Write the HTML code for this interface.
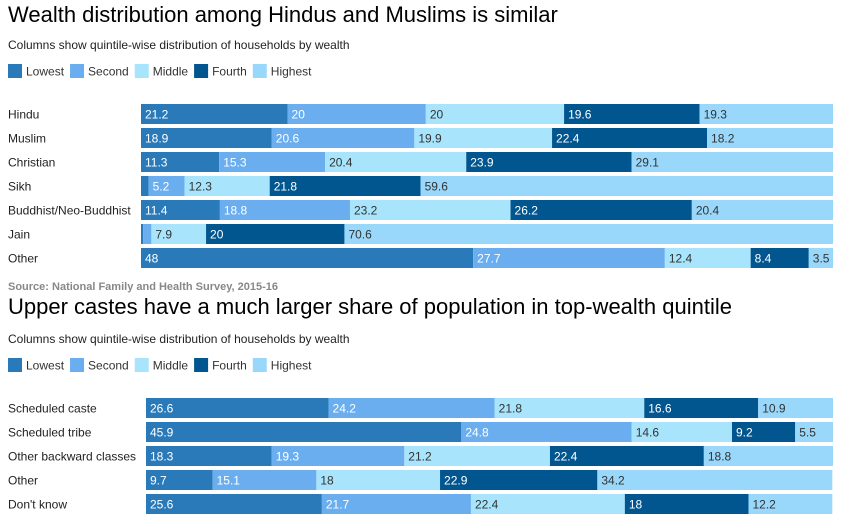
<!DOCTYPE html>
<html><head><meta charset="utf-8"><style>
body{margin:0;width:841px;height:525px;background:#fff;font-family:"Liberation Sans",Arial,sans-serif;position:relative;overflow:hidden}
.abs{position:absolute;white-space:nowrap}
.title{font-size:22px;color:#000}
.sub{font-size:12px;color:#222}
.src{font-size:11px;color:#888;font-weight:bold}
</style></head><body>
<div class="abs title" style="left:8px;top:2px">Wealth distribution among Hindus and Muslims is similar</div>
<div class="abs sub" style="left:8px;top:38px">Columns show quintile-wise distribution of households by wealth</div>
<div class="abs src" style="left:8px;top:281px">Source: National Family and Health Survey, 2015-16</div>
<div class="abs title" style="left:8px;top:294px">Upper castes have a much larger share of population in top-wealth quintile</div>
<div class="abs sub" style="left:8px;top:332px">Columns show quintile-wise distribution of households by wealth</div>
<svg id="svg" width="841" height="525" style="position:absolute;left:0;top:0"></svg>
<script>
const quintiles=["Lowest","Second","Middle","Fourth","Highest"];
const colors=["#2a7ab9","#6aaef0","#a8e4fb","#02568f","#9ad8fb"];
const textColors=["#fff","#fff","#333","#fff","#333"];
const groups1=["Hindu","Muslim","Christian","Sikh","Buddhist/Neo-Buddhist","Jain","Other"];
const lowest1=[21.2,18.9,11.3,1.1,11.4,0.3,48];
const second1=[20,20.6,15.3,5.2,18.8,1.2,27.7];
const middle1=[20,19.9,20.4,12.3,23.2,7.9,12.4];
const fourth1=[19.6,22.4,23.9,21.8,26.2,20,8.4];
const highest1=[19.3,18.2,29.1,59.6,20.4,70.6,3.5];
const groups2=["Scheduled caste","Scheduled tribe","Other backward classes","Other","Don't know"];
const lowest2=[26.6,45.9,18.3,9.7,25.6];
const second2=[24.2,24.8,19.3,15.1,21.7];
const middle2=[21.8,14.6,21.2,18,22.4];
const fourth2=[16.6,9.2,22.4,22.9,18];
const highest2=[10.9,5.5,18.8,34.2,12.2];
const svg=document.getElementById('svg');
const NS="http://www.w3.org/2000/svg";
function mk(tag,attrs){const e=document.createElementNS(NS,tag);for(const k in attrs)e.setAttribute(k,attrs[k]);svg.appendChild(e);return e;}
function legend(y,prefix){
  let x=8;
  quintiles.forEach((q,i)=>{
    const r=mk('rect',{x:x,y:y,width:14,height:14,fill:colors[i]});
    
    
    const t=mk('text',{x:x+18,y:y+11.5,'font-size':12,fill:'#333','font-family':'Liberation Sans, sans-serif'});
    t.textContent=q;
    
    
    x+=18+t.getComputedTextLength()+6;
  });
}
function chart(groups,series,top,prefix,x0,xEnd){
  const xW=xEnd-x0;
  groups.forEach((g,r)=>{
    const y=top+r*24;
    const lab=mk('text',{x:8,y:y+14.5,'font-size':12,fill:'#222','font-family':'Liberation Sans, sans-serif'});
    lab.textContent=g;
    
    
    const vals=series.map(s=>s[r]);
    const total=Math.max(100,vals.reduce((a,b)=>a+b,0));
    let cx=x0;
    vals.forEach((v,i)=>{
      const w=v/total*xW;
      const rect=mk('rect',{x:cx,y:y,width:w,height:20,fill:colors[i]});
      
      
      if(w>14){
        const t=mk('text',{x:cx+4,y:y+14.5,'font-size':12,fill:textColors[i],'font-family':'Liberation Sans, sans-serif'});
        t.textContent=String(v);
        
        
      }
      cx+=w;
    });
  });
}
legend(64,'chart1');
legend(358,'chart2');
chart(groups1,[lowest1,second1,middle1,fourth1,highest1],104,'chart1',141,833);
chart(groups2,[lowest2,second2,middle2,fourth2,highest2],398,'chart2',146,833);
</script>
</body></html>
